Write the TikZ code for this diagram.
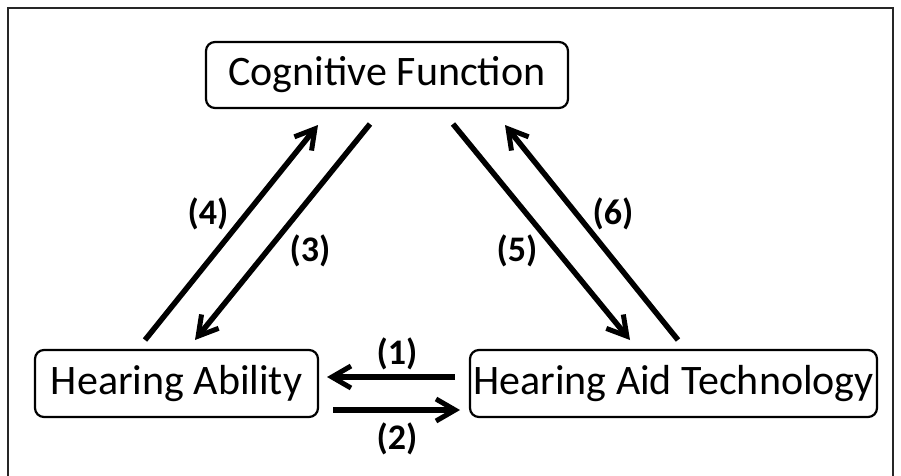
\documentclass[tikz,border=0pt]{standalone}
\usepackage{fontspec}
\setmainfont{Carlito}
\usetikzlibrary{arrows.meta}
\begin{document}
\begin{tikzpicture}[x=1pt,y=-1pt,
  box/.style={draw, line width=2.2pt, rounded corners=9pt, inner sep=0pt, font=\fontsize{42}{46}\selectfont},
  arr/.style={line width=5.5pt, -{Straight Barb[length=19pt,width=22pt,line width=5pt]}},
  lab/.style={font=\fontsize{36}{40}\selectfont\bfseries}]
\useasboundingbox (0,0) rectangle (901,475);
\draw[line width=1.4pt, black!85] (8,480) -- (8,8) -- (893,8) -- (893,480);
\node[box, minimum width=362pt, minimum height=66pt] (cf) at (387,75) {Cognitive Function};
\node[box, minimum width=283pt, minimum height=67pt] (ha) at (176.5,383.5) {Hearing Ability};
\node[box, minimum width=407pt, minimum height=67pt] (hat) at (673.5,383.5) {Hearing Aid Technology};
\coordinate (a4s) at (145,340); \coordinate (a4e) at (318,125);
\coordinate (a3s) at (370,124); \coordinate (a3e) at (195,340);
\coordinate (a5s) at (453,124); \coordinate (a5e) at (630,340);
\coordinate (a6s) at (678,340); \coordinate (a6e) at (505,125);
\coordinate (a1s) at (455,377); \coordinate (a1e) at (327,377);
\coordinate (a2s) at (333,410); \coordinate (a2e) at (460,410);
\draw[arr] (a4s) -- (a4e);
\draw[arr] (a3s) -- (a3e);
\draw[arr] (a5s) -- (a5e);
\draw[arr] (a6s) -- (a6e);
\draw[arr] (a1s) -- (a1e);
\draw[arr] (a2s) -- (a2e);
\node[lab] (l4) at (208,214) {(4)};
\node[lab] (l3) at (310,251) {(3)};
\node[lab] (l5) at (517,251) {(5)};
\node[lab] (l6) at (613,214) {(6)};
\node[lab] (l1) at (397,354) {(1)};
\node[lab] (l2) at (397,439) {(2)};
\end{tikzpicture}
\end{document}
